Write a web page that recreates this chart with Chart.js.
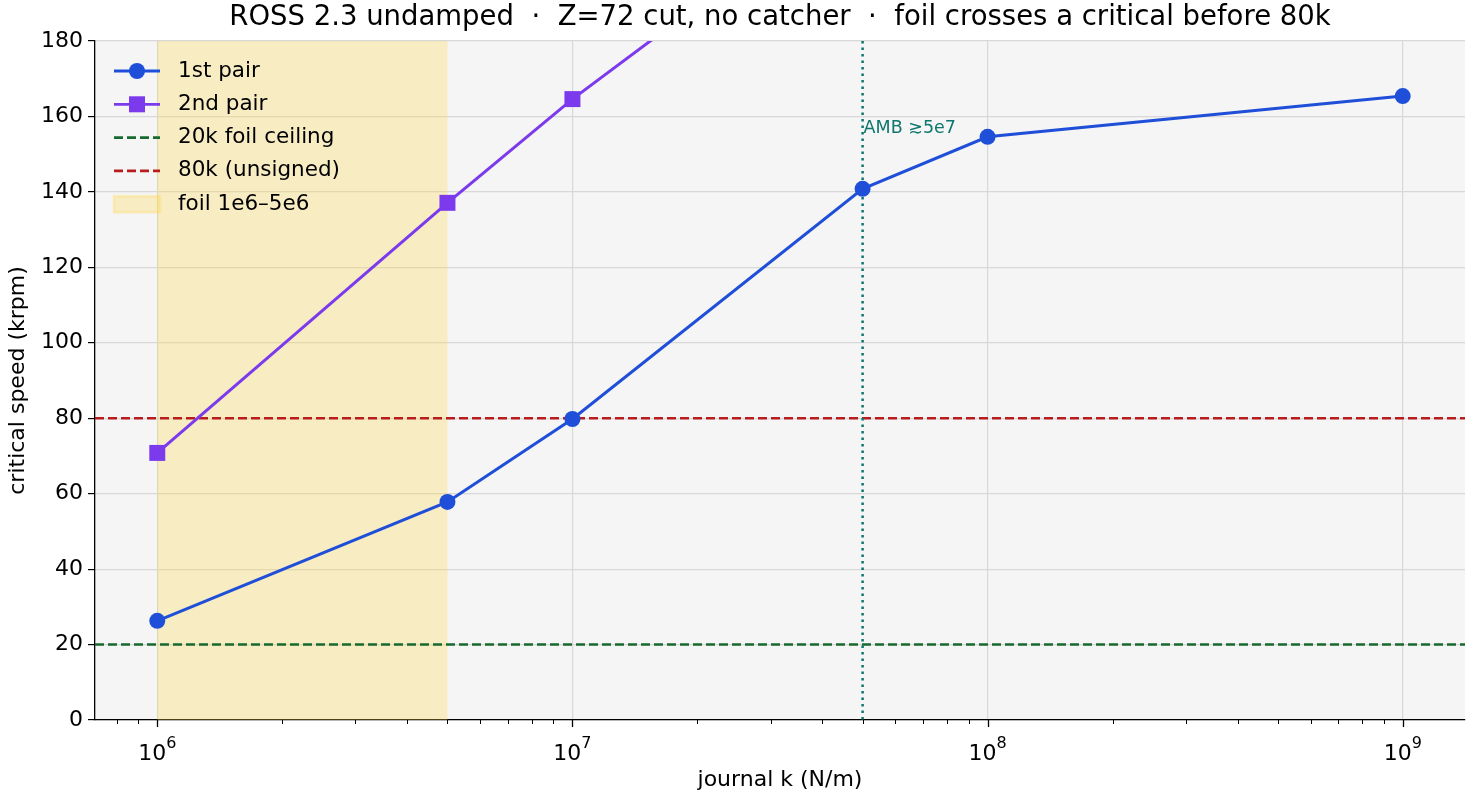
<!DOCTYPE html>
<html>
<head>
<meta charset="utf-8">
<script src="https://cdn.jsdelivr.net/npm/chart.js@4.4.1/dist/chart.umd.min.js"></script>
<style>
  html, body { margin: 0; background: #fff; }
  #wrap { width: 1472px; height: 800px; }
</style>
</head>
<body>
<div id="wrap"><canvas id="chart" width="1472" height="800"></canvas></div>
<script>
// ---- data ----
const journalK = [1e6, 5e6, 1e7, 5e7, 1e8, 1e9];
const firstPair = [26.3, 57.8, 79.8, 140.8, 154.6, 165.4];
const secondK = [1e6, 5e6, 1e7, 5e7];
const secondPair = [70.8, 137.1, 164.6, 222];
const yTicks = [0, 20, 40, 60, 80, 100, 120, 140, 160, 180];
const decades = [6, 7, 8, 9];
const foilBand = [1e6, 5e6];
const foilCeiling = 20;
const unsignedLine = 80;
const ambK = 5e7;

const FONT = "'DejaVu Sans', sans-serif";
const BLUE = "#1f4fd8";
const PURPLE = "#7c3aed";
const GREEN = "#17692f";
const RED = "#b91c1c";
const TEAL = "#0f766e";
const BAND = "rgba(255,214,80,0.30)";

// ---- background, span, reference lines ----
const backdrop = {
  id: "backdrop",
  beforeDraw(chart) {
    const { ctx, chartArea: a } = chart;
    ctx.save();
    ctx.fillStyle = "#f5f5f5";
    ctx.fillRect(a.left, a.top, a.right - a.left, a.bottom - a.top);
    ctx.restore();
  },
  beforeDatasetsDraw(chart) {
    const { ctx, chartArea: a, scales: { x, y } } = chart;
    ctx.save();
    // foil band
    const x0 = x.getPixelForValue(foilBand[0]);
    const x1 = x.getPixelForValue(foilBand[1]);
    ctx.fillStyle = BAND;
    ctx.fillRect(x0, a.top, x1 - x0, a.bottom - a.top);

    // horizontal dashed lines
    ctx.lineWidth = 2.5;
    ctx.setLineDash([9, 4]);
    [[foilCeiling, GREEN], [unsignedLine, RED]].forEach(([v, c]) => {
      const py = y.getPixelForValue(v);
      ctx.strokeStyle = c;
      ctx.beginPath();
      ctx.moveTo(a.left, py);
      ctx.lineTo(a.right, py);
      ctx.stroke();
    });

    // AMB dotted line
    const px = x.getPixelForValue(ambK);
    ctx.strokeStyle = TEAL;
    ctx.lineWidth = 2.5;
    ctx.setLineDash([2.5, 4]);
    ctx.beginPath();
    ctx.moveTo(px, a.top);
    ctx.lineTo(px, a.bottom);
    ctx.stroke();
    ctx.setLineDash([]);

    ctx.fillStyle = TEAL;
    ctx.font = "17.5px " + FONT;
    ctx.textAlign = "left";
    ctx.textBaseline = "middle";
    ctx.fillText("AMB \u22735e7", px + 1, y.getPixelForValue(156.8));
    ctx.restore();
  }
};

// ---- log axis ticks, titles, legend ----
const decorations = {
  id: "decorations",
  afterDraw(chart) {
    const { ctx, chartArea: a, scales: { x } } = chart;
    ctx.save();
    ctx.strokeStyle = "#000";
    for (let e = 5; e <= 9; e++) {
      for (let m = 1; m <= 9; m++) {
        const v = m * Math.pow(10, e);
        if (v < x.min || v > x.max) continue;
        const px = Math.round(x.getPixelForValue(v)) + 0.5;
        const len = m === 1 ? 7 : 4;
        ctx.lineWidth = m === 1 ? 1.3 : 1;
        ctx.beginPath();
        ctx.moveTo(px, a.bottom);
        ctx.lineTo(px, a.bottom + len);
        ctx.stroke();
      }
    }
    // decade labels 10^n
    ctx.fillStyle = "#000";
    ctx.textBaseline = "alphabetic";
    ctx.textAlign = "left";
    decades.forEach(d => {
      const px = x.getPixelForValue(Math.pow(10, d));
      ctx.font = "22px " + FONT;
      const wb = ctx.measureText("10").width;
      ctx.font = "16px " + FONT;
      const we = ctx.measureText(String(d)).width;
      const start = px - (wb + we) / 2;
      ctx.font = "22px " + FONT;
      ctx.fillText("10", start, 760);
      ctx.font = "16px " + FONT;
      ctx.fillText(String(d), start + wb, 748);
    });

    // title
    ctx.font = "27.5px " + FONT;
    ctx.textAlign = "center";
    ctx.textBaseline = "middle";
    ctx.fillText("ROSS 2.3 undamped  \u00b7  Z=72 cut, no catcher  \u00b7  foil crosses a critical before 80k", (a.left + a.right) / 2, 18);

    // axis titles
    ctx.font = "22px " + FONT;
    ctx.fillText("journal k (N/m)", (a.left + a.right) / 2, 780);
    ctx.save();
    ctx.translate(18, (a.top + a.bottom) / 2);
    ctx.rotate(-Math.PI / 2);
    ctx.fillText("critical speed (krpm)", 0, 0);
    ctx.restore();

    // legend
    const items = [
      { label: "1st pair", kind: "circle", color: BLUE },
      { label: "2nd pair", kind: "square", color: PURPLE },
      { label: "20k foil ceiling", kind: "dash", color: GREEN },
      { label: "80k (unsigned)", kind: "dash", color: RED },
      { label: "foil 1e6\u20135e6", kind: "patch" }
    ];
    const lx0 = 114, lx1 = 160, tx = 178;
    items.forEach((it, i) => {
      const cy = 71 + i * 33.3;
      if (it.kind === "patch") {
        ctx.fillStyle = BAND;
        ctx.fillRect(lx0, cy - 8, lx1 - lx0, 16);
        ctx.strokeStyle = BAND;
        ctx.strokeRect(lx0, cy - 8, lx1 - lx0, 16);
      } else {
        ctx.strokeStyle = it.color;
        ctx.lineWidth = 2.8;
        ctx.setLineDash(it.kind === "dash" ? [9, 4] : []);
        ctx.beginPath();
        ctx.moveTo(lx0, cy);
        ctx.lineTo(lx1, cy);
        ctx.stroke();
        ctx.setLineDash([]);
        ctx.fillStyle = it.color;
        const mx = (lx0 + lx1) / 2;
        if (it.kind === "circle") {
          ctx.beginPath();
          ctx.arc(mx, cy, 8, 0, Math.PI * 2);
          ctx.fill();
        } else if (it.kind === "square") {
          ctx.fillRect(mx - 8, cy - 8, 16, 16);
        }
      }
      ctx.fillStyle = "#000";
      ctx.font = "21.5px " + FONT;
      ctx.textAlign = "left";
      ctx.textBaseline = "middle";
      ctx.fillText(it.label, tx, cy);
    });
    ctx.restore();
  }
};

const isDecade = v => Math.abs(Math.log10(v) - Math.round(Math.log10(v))) < 1e-9;

new Chart(document.getElementById("chart"), {
  type: "line",
  data: {
    datasets: [
      {
        label: "1st pair",
        data: journalK.map((k, i) => ({ x: k, y: firstPair[i] })),
        borderColor: BLUE,
        backgroundColor: BLUE,
        borderWidth: 3,
        pointStyle: "circle",
        pointRadius: 8,
        pointBorderWidth: 0,
        tension: 0
      },
      {
        label: "2nd pair",
        data: secondK.map((k, i) => ({ x: k, y: secondPair[i] })),
        borderColor: PURPLE,
        backgroundColor: PURPLE,
        borderWidth: 3,
        pointStyle: "rect",
        pointRadius: 11.3,
        pointBorderWidth: 0,
        tension: 0
      }
    ]
  },
  options: {
    responsive: false,
    animation: false,
    devicePixelRatio: 1,
    layout: { autoPadding: false, padding: { top: 41, right: 7, left: 0, bottom: 0 } },
    plugins: { legend: { display: false }, title: { display: false }, tooltip: { enabled: false } },
    scales: {
      x: {
        type: "logarithmic",
        min: Math.pow(10, 5.85),
        max: Math.pow(10, 9.15),
        afterFit: s => { s.height = 80; s.paddingLeft = 0; s.paddingRight = 0; },
        border: { color: "#000", width: 1.3 },
        grid: {
          drawTicks: false,
          color: c => (c.tick && isDecade(c.tick.value) ? "#d8d8d8" : "rgba(0,0,0,0)"),
          lineWidth: 1.2
        },
        ticks: { autoSkip: false, maxRotation: 0, callback: () => "" }
      },
      y: {
        min: 0,
        max: 180,
        afterFit: s => { s.width = 95; },
        afterBuildTicks: s => { s.ticks = yTicks.map(v => ({ value: v })); },
        border: { color: "#000", width: 1.3 },
        grid: { color: "#d8d8d8", lineWidth: 1.2, tickColor: "#000", tickLength: 7 },
        ticks: { color: "#000", font: { family: FONT, size: 22 }, padding: 5 }
      }
    }
  },
  plugins: [backdrop, decorations]
});
</script>
</body>
</html>
